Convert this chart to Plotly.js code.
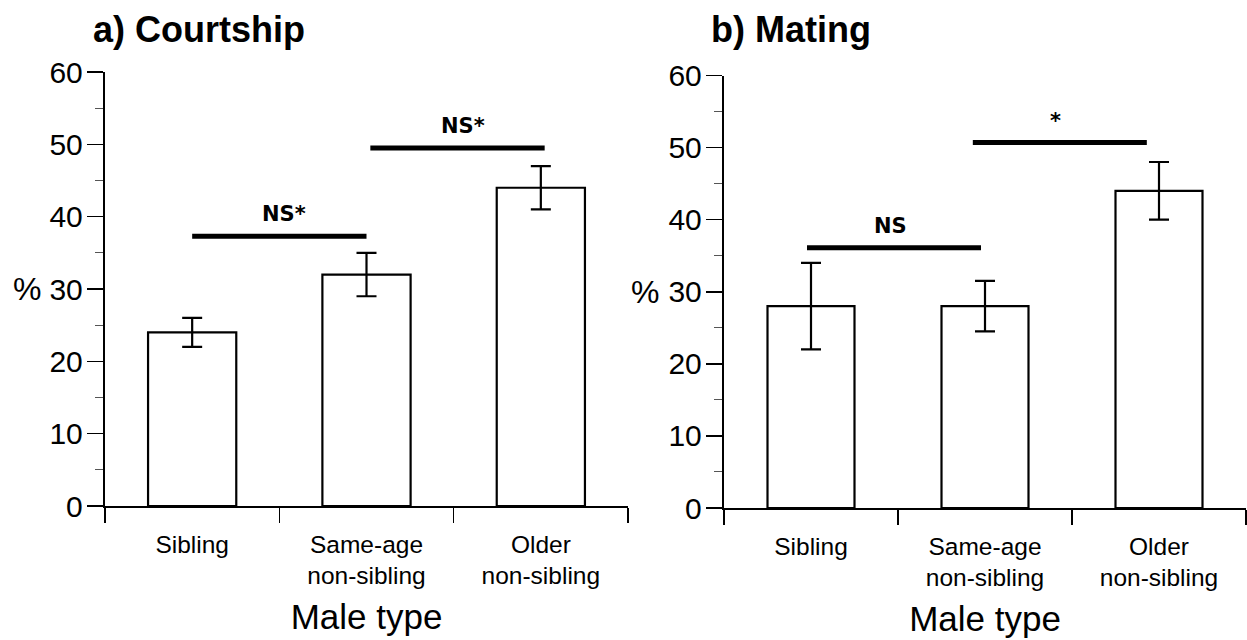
<!DOCTYPE html>
<html>
<head>
<meta charset="utf-8">
<script src="https://cdn.plot.ly/plotly-3.0.1.min.js"></script>
<style>
  html, body { margin: 0; padding: 0; background: #fff; }
  #chart { width: 1247px; height: 640px; }
</style>
</head>
<body>
<div id="chart"></div>
<script>
// ---- data ----
const categories = ["Sibling", "Same-age<br>non-sibling", "Older<br>non-sibling"];

const courtshipValues = [24, 32, 44];
const courtshipErrPlus = [2, 3, 3];
const courtshipErrMinus = [2, 3, 3];

const matingValues = [28, 28, 44];
const matingErrPlus = [6, 3.5, 4];
const matingErrMinus = [6, 3.5, 4];

// significance comparisons (category index pairs, bar height, label)
const courtshipSigFrom = [0, 1];
const courtshipSigTo = [1, 2];
const courtshipSigY = [37.3, 49.5];
const courtshipSigLabel = ["NS*", "NS*"];

const matingSigFrom = [0, 1];
const matingSigTo = [1, 2];
const matingSigY = [36.1, 50.7];
const matingSigLabel = ["NS", "*"];

const yTickVals = [0, 10, 20, 30, 40, 50, 60];

// ---- drawing ----
const W = 1247, H = 640;
const FONT = "Liberation Sans, Arial, sans-serif";

function barTrace(vals, plus, minus, xa, ya, width) {
  return {
    type: "bar",
    x: categories,
    y: vals,
    xaxis: xa, yaxis: ya,
    width: width,
    marker: { color: "#ffffff", line: { color: "#000", width: 2.2 } },
    error_y: {
      type: "data", symmetric: false,
      array: plus, arrayminus: minus,
      color: "#000", thickness: 2.2, width: 10
    },
    hoverinfo: "skip",
    showlegend: false
  };
}

const traces = [
  barTrace(courtshipValues, courtshipErrPlus, courtshipErrMinus, "x", "y", 0.506),
  barTrace(matingValues, matingErrPlus, matingErrMinus, "x2", "y2", 0.5)
];

function xAxis(domain, anchor) {
  return {
    domain: domain, anchor: anchor,
    type: "category",
    range: [-0.5, 2.5],
    tickson: "boundaries",
    ticks: "outside", ticklen: 15, tickwidth: 1.5, tickcolor: "#000",
    showline: true, linecolor: "#000", linewidth: 2.2,
    showgrid: false, zeroline: false,
    tickfont: { family: FONT, size: 24.5, color: "#000" },
    ticklabelstandoff: 15,
    title: { text: "Male type", font: { family: FONT, size: 35, color: "#000" }, standoff: 16 },
    fixedrange: true
  };
}

function yAxis(domain, anchor) {
  return {
    domain: domain, anchor: anchor,
    range: [0, 60],
    tickvals: yTickVals,
    ticks: "outside", ticklen: 16, tickwidth: 1.5, tickcolor: "#000",
    minor: { dtick: 5, ticks: "outside", ticklen: 8, tickwidth: 1, tickcolor: "#555" },
    showline: true, linecolor: "#000", linewidth: 2.2,
    showgrid: false, zeroline: false,
    tickfont: { family: FONT, size: 30, color: "#000" },
    ticklabelstandoff: -2,
    fixedrange: true
  };
}

const shapes = [];
const annotations = [];

function addSig(from, to, ys, labels, xref, yref, offsets) {
  for (let i = 0; i < from.length; i++) {
    const x0 = from[i] + offsets[i];
    const x1 = to[i] + offsets[i];
    shapes.push({
      type: "line", xref: xref, yref: yref,
      x0: x0, x1: x1, y0: ys[i], y1: ys[i],
      line: { color: "#000", width: 5 }
    });
    annotations.push({
      xref: xref, yref: yref,
      x: (x0 + x1) / 2, y: ys[i],
      text: labels[i], showarrow: false,
      xanchor: "center", yanchor: "middle",
      yshift: 22, xshift: labels[i].length > 2 ? 5 : -4,
      font: { family: "DejaVu Sans, sans-serif", size: 21, color: "#000", weight: "bold" }
    });
  }
}

addSig(courtshipSigFrom, courtshipSigTo, courtshipSigY, courtshipSigLabel, "x", "y", [0, 0.022]);
addSig(matingSigFrom, matingSigTo, matingSigY, matingSigLabel, "x2", "y2", [-0.023, -0.07]);

// panel titles and % labels
annotations.push({
  xref: "paper", yref: "paper", x: 91 / W, y: 1 - 52 / H,
  xanchor: "left", yanchor: "bottom", showarrow: false,
  text: "<b>a) Courtship</b>",
  font: { family: FONT, size: 36, color: "#000" }
});
annotations.push({
  xref: "paper", yref: "paper", x: 709 / W, y: 1 - 52 / H,
  xanchor: "left", yanchor: "bottom", showarrow: false,
  text: "<b>b) Mating</b>",
  font: { family: FONT, size: 36, color: "#000" }
});
annotations.push({
  xref: "paper", yref: "y", x: 11 / W, y: 30,
  xanchor: "left", yanchor: "middle", showarrow: false,
  text: "%", font: { family: FONT, size: 32, color: "#000" }
});
annotations.push({
  xref: "paper", yref: "y2", x: 629 / W, y: 30,
  xanchor: "left", yanchor: "middle", showarrow: false,
  text: "%", font: { family: FONT, size: 32, color: "#000" }
});

const layout = {
  width: W, height: H,
  margin: { l: 0, r: 0, t: 0, b: 0 },
  paper_bgcolor: "#fff", plot_bgcolor: "#fff",
  xaxis: xAxis([105 / W, 628 / W], "y"),
  yaxis: yAxis([1 - 506 / H, 1 - 72 / H], "x"),
  xaxis2: xAxis([724 / W, 1246 / W], "y2"),
  yaxis2: yAxis([1 - 508 / H, 1 - 75.5 / H], "x2"),
  shapes: shapes,
  annotations: annotations,
  bargap: 0.5
};

Plotly.newPlot("chart", traces, layout, { staticPlot: true, displayModeBar: false });
</script>
</body>
</html>
